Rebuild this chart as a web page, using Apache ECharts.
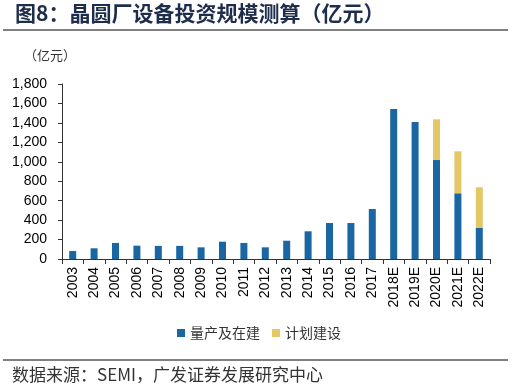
<!DOCTYPE html>
<html><head><meta charset="utf-8">
<script src="https://cdn.jsdelivr.net/npm/echarts@6/dist/echarts.min.js"></script>
<style>html,body{margin:0;padding:0;background:#fff}#c{width:516px;height:390px}</style>
</head><body><div id="c"></div>
<script>
var categories = ['2003','2004','2005','2006','2007','2008','2009','2010','2011','2012','2013','2014','2015','2016','2017','2018E','2019E','2020E','2021E','2022E'];
var built = [82,110,165,137,135,135,120,178,165,120,188,285,370,370,514,1543,1409,1018,676,319];
var planned = [0,0,0,0,0,0,0,0,0,0,0,0,0,0,0,0,0,419,432,419];
var yTicks = [0,200,400,600,800,1000,1200,1400,1600,1800];

var chart = echarts.init(document.getElementById('c'));
var font = '"Liberation Sans", Arial, sans-serif';
var cjk = '"Noto Sans CJK SC", sans-serif';
chart.setOption({
  animation: false,
  grid: {left: 62, right: 26, top: 84, bottom: 131},
  graphic: [
    {type:'text', left: 15, top: 3, style:{text:'图8：晶圆厂设备投资规模测算（亿元）', font:'bold 21px ' + cjk, fill:'#1f2d4d'}},
    {type:'line', shape:{x1:3,y1:30,x2:508,y2:30}, style:{stroke:'#000', lineWidth:1}},
    {type:'text', left: 24, top: 49, style:{text:'（亿元）', font:'13px ' + cjk, fill:'#333'}},
    {type:'line', shape:{x1:3,y1:360,x2:508,y2:360}, style:{stroke:'#000', lineWidth:1}},
    {type:'text', left: 12, top: 366, style:{text:'数据来源：SEMI，广发证券发展研究中心', font:'17px ' + cjk, fill:'#333'}}
  ],
  legend: {
    top: 321, left: 172, itemWidth: 8, itemHeight: 8, itemGap: 12,
    icon: 'rect',
    textStyle: {fontFamily: cjk, fontSize: 14, color: '#333'},
    data: ['量产及在建','计划建设']
  },
  xAxis: {
    type: 'category', data: categories,
    axisLine: {lineStyle: {color: '#333'}},
    axisTick: {show: true, length: 5, lineStyle:{color:'#333'}},
    axisLabel: {rotate: 90, fontFamily: font, fontSize: 14, color: '#000', margin: 8}
  },
  yAxis: {
    type: 'value', min: 0, max: 1800, interval: 200,
    splitLine: {show: false},
    axisLine: {show: true, lineStyle: {color: '#333'}},
    axisTick: {show: true, length: 4, lineStyle:{color:'#333'}},
    axisLabel: {fontFamily: font, fontSize: 14, color: '#000', margin: 15,
      formatter: function(v){ return yTicks.indexOf(v) >= 0 ? v.toLocaleString('en-US') : ''; }}
  },
  series: [
    {name:'量产及在建', type:'bar', stack:'a', data: built, barWidth: 7, itemStyle:{color:'#1a66a3'}},
    {name:'计划建设', type:'bar', stack:'a', data: planned, barWidth: 7, itemStyle:{color:'#e5c866'}}
  ]
});
</script></body></html>
